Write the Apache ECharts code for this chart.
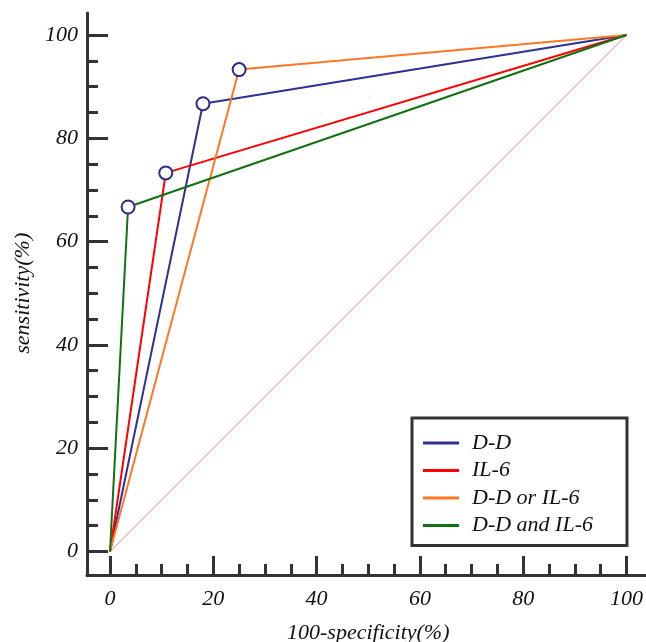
<!DOCTYPE html>
<html>
<head>
<meta charset="utf-8">
<script src="https://cdn.jsdelivr.net/npm/echarts@6/dist/echarts.min.js"></script>
<style>
  html, body { margin: 0; padding: 0; background: #fff; }
  #chart { width: 646px; height: 642px; }
</style>
</head>
<body>
<div id="chart"></div>
<script>
var seriesNames = ['D-D', 'IL-6', 'D-D or IL-6', 'D-D and IL-6'];
var seriesColors = ['#2e3192', '#ff0000', '#ff7722', '#0f720f'];
// 100-specificity / sensitivity for each curve
var ddX = [0, 18, 100],    ddY = [0, 86.7, 100];
var il6X = [0, 10.8, 100], il6Y = [0, 73.3, 100];
var orX = [0, 25, 100],    orY = [0, 93.3, 100];
var andX = [0, 3.5, 100],  andY = [0, 66.7, 100];
var refX = [0, 100],       refY = [0, 100];

var curvesX = [ddX, il6X, orX, andX];
var curvesY = [ddY, il6Y, orY, andY];

var font = 'Liberation Serif';
var axisColor = '#333';

function pointsOf(xs, ys) {
	var out = [];
	for (var i = 0; i < xs.length; i++) {
		var p = { value: [xs[i], ys[i]] };
		if (i === 0 || i === xs.length - 1) {
			p.symbol = 'none';
		} else {
			p.itemStyle = { color: '#2b2b8a', borderWidth: 2 };
		}
		out.push(p);
	}
	return out;
}

var series = [{
	name: 'ref',
	type: 'line',
	xAxisIndex: 0,
	yAxisIndex: 0,
	data: refX.map(function (x, i) { return [x, refY[i]]; }),
	symbol: 'none',
	silent: true,
	z: 1,
	lineStyle: { color: '#c98a8a', width: 1 }
}];
seriesNames.forEach(function (name, k) {
	series.push({
		name: name,
		type: 'line',
		xAxisIndex: 0,
		yAxisIndex: 0,
		data: pointsOf(curvesX[k], curvesY[k]),
		symbol: 'emptyCircle',
		symbolSize: 13,
		z: 3,
		itemStyle: { color: seriesColors[k] },
		lineStyle: { color: seriesColors[k], width: 2 }
	});
});

var tickStyle = { color: axisColor, width: 3 };
var labelStyle = { fontFamily: font, fontStyle: 'italic', fontSize: 22, color: '#111' };
var nameStyle = { fontFamily: font, fontStyle: 'italic', fontSize: 22, color: '#111' };

var chart = echarts.init(document.getElementById('chart'));
chart.setOption({
	animation: false,
	backgroundColor: '#fff',
	grid: [
		{ left: 110, right: 19.5, top: 35, bottom: 90.5, outerBoundsMode: 'none' },
		{ left: 87, right: 0, top: 13, bottom: 67, outerBoundsMode: 'none' }
	],
	legend: {
		data: seriesNames,
		orient: 'vertical',
		left: 412,
		top: 418,
		icon: 'rect',
		itemWidth: 36,
		itemHeight: 3,
		itemGap: 5.5,
		padding: [14, 34, 9, 11],
		borderColor: axisColor,
		borderWidth: 3,
		textStyle: { fontFamily: font, fontStyle: 'italic', fontSize: 22, color: '#111', padding: [0, 0, 0, 8] }
	},
	xAxis: [{
		type: 'value',
		gridIndex: 0,
		min: 0,
		max: 100,
		interval: 20,
		offset: 23.5,
		name: '100-specificity(%)',
		nameLocation: 'middle',
		nameGap: 47,
		nameTextStyle: nameStyle,
		axisLine: { show: false, onZero: false },
		axisTick: { show: true, inside: true, length: 19, lineStyle: tickStyle },
		minorTick: { show: true, splitNumber: 4, length: 11, lineStyle: tickStyle },
		axisLabel: Object.assign({ margin: 13 }, labelStyle),
		splitLine: { show: false }
	}, {
		type: 'value',
		gridIndex: 1,
		min: 0,
		max: 1,
		axisLine: { show: true, onZero: false, lineStyle: { color: axisColor, width: 3 } },
		axisTick: { show: false },
		axisLabel: { show: false },
		splitLine: { show: false }
	}],
	yAxis: [{
		type: 'value',
		gridIndex: 0,
		min: 0,
		max: 100,
		interval: 20,
		offset: 23,
		name: 'sensitivity(%)',
		nameLocation: 'middle',
		nameGap: 49,
		nameTextStyle: nameStyle,
		axisLine: { show: false, onZero: false },
		axisTick: { show: true, inside: true, length: 21, lineStyle: tickStyle },
		minorTick: { show: true, splitNumber: 4, length: 11, lineStyle: tickStyle },
		axisLabel: Object.assign({ margin: 9 }, labelStyle),
		splitLine: { show: false }
	}, {
		type: 'value',
		gridIndex: 1,
		min: 0,
		max: 1,
		axisLine: { show: true, onZero: false, lineStyle: { color: axisColor, width: 3 } },
		axisTick: { show: false },
		axisLabel: { show: false },
		splitLine: { show: false }
	}],
	series: series
});
</script>
</body>
</html>
